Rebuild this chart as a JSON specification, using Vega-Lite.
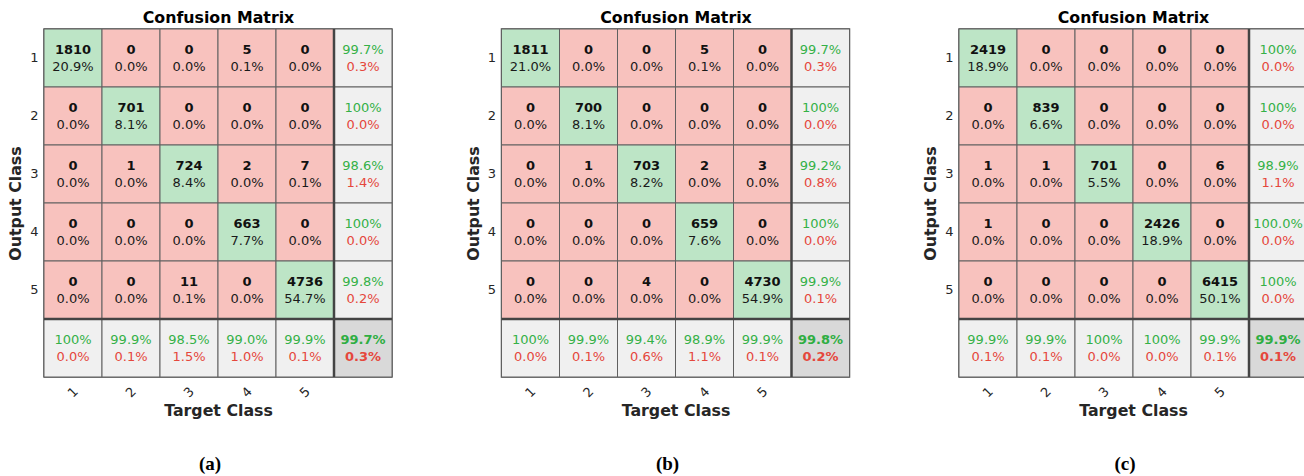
{
  "$schema": "https://vega.github.io/schema/vega-lite/v6.json",
  "background": "white",
  "padding": {"left": 6, "top": 8, "right": 0, "bottom": 0},
  "autosize": {"type": "pad"},
  "spacing": 109.5,
  "bounds": "flush",
  "data": {"values": [
    {"p":"a","r":"1","c":"1","t":"1810","s":"20.9%","k":"d"},
    {"p":"a","r":"1","c":"2","t":"0","s":"0.0%","k":"o"},
    {"p":"a","r":"1","c":"3","t":"0","s":"0.0%","k":"o"},
    {"p":"a","r":"1","c":"4","t":"5","s":"0.1%","k":"o"},
    {"p":"a","r":"1","c":"5","t":"0","s":"0.0%","k":"o"},
    {"p":"a","r":"1","c":"T","t":"99.7%","s":"0.3%","k":"s"},
    {"p":"a","r":"2","c":"1","t":"0","s":"0.0%","k":"o"},
    {"p":"a","r":"2","c":"2","t":"701","s":"8.1%","k":"d"},
    {"p":"a","r":"2","c":"3","t":"0","s":"0.0%","k":"o"},
    {"p":"a","r":"2","c":"4","t":"0","s":"0.0%","k":"o"},
    {"p":"a","r":"2","c":"5","t":"0","s":"0.0%","k":"o"},
    {"p":"a","r":"2","c":"T","t":"100%","s":"0.0%","k":"s"},
    {"p":"a","r":"3","c":"1","t":"0","s":"0.0%","k":"o"},
    {"p":"a","r":"3","c":"2","t":"1","s":"0.0%","k":"o"},
    {"p":"a","r":"3","c":"3","t":"724","s":"8.4%","k":"d"},
    {"p":"a","r":"3","c":"4","t":"2","s":"0.0%","k":"o"},
    {"p":"a","r":"3","c":"5","t":"7","s":"0.1%","k":"o"},
    {"p":"a","r":"3","c":"T","t":"98.6%","s":"1.4%","k":"s"},
    {"p":"a","r":"4","c":"1","t":"0","s":"0.0%","k":"o"},
    {"p":"a","r":"4","c":"2","t":"0","s":"0.0%","k":"o"},
    {"p":"a","r":"4","c":"3","t":"0","s":"0.0%","k":"o"},
    {"p":"a","r":"4","c":"4","t":"663","s":"7.7%","k":"d"},
    {"p":"a","r":"4","c":"5","t":"0","s":"0.0%","k":"o"},
    {"p":"a","r":"4","c":"T","t":"100%","s":"0.0%","k":"s"},
    {"p":"a","r":"5","c":"1","t":"0","s":"0.0%","k":"o"},
    {"p":"a","r":"5","c":"2","t":"0","s":"0.0%","k":"o"},
    {"p":"a","r":"5","c":"3","t":"11","s":"0.1%","k":"o"},
    {"p":"a","r":"5","c":"4","t":"0","s":"0.0%","k":"o"},
    {"p":"a","r":"5","c":"5","t":"4736","s":"54.7%","k":"d"},
    {"p":"a","r":"5","c":"T","t":"99.8%","s":"0.2%","k":"s"},
    {"p":"a","r":"T","c":"1","t":"100%","s":"0.0%","k":"s"},
    {"p":"a","r":"T","c":"2","t":"99.9%","s":"0.1%","k":"s"},
    {"p":"a","r":"T","c":"3","t":"98.5%","s":"1.5%","k":"s"},
    {"p":"a","r":"T","c":"4","t":"99.0%","s":"1.0%","k":"s"},
    {"p":"a","r":"T","c":"5","t":"99.9%","s":"0.1%","k":"s"},
    {"p":"a","r":"T","c":"T","t":"99.7%","s":"0.3%","k":"t"},

    {"p":"b","r":"1","c":"1","t":"1811","s":"21.0%","k":"d"},
    {"p":"b","r":"1","c":"2","t":"0","s":"0.0%","k":"o"},
    {"p":"b","r":"1","c":"3","t":"0","s":"0.0%","k":"o"},
    {"p":"b","r":"1","c":"4","t":"5","s":"0.1%","k":"o"},
    {"p":"b","r":"1","c":"5","t":"0","s":"0.0%","k":"o"},
    {"p":"b","r":"1","c":"T","t":"99.7%","s":"0.3%","k":"s"},
    {"p":"b","r":"2","c":"1","t":"0","s":"0.0%","k":"o"},
    {"p":"b","r":"2","c":"2","t":"700","s":"8.1%","k":"d"},
    {"p":"b","r":"2","c":"3","t":"0","s":"0.0%","k":"o"},
    {"p":"b","r":"2","c":"4","t":"0","s":"0.0%","k":"o"},
    {"p":"b","r":"2","c":"5","t":"0","s":"0.0%","k":"o"},
    {"p":"b","r":"2","c":"T","t":"100%","s":"0.0%","k":"s"},
    {"p":"b","r":"3","c":"1","t":"0","s":"0.0%","k":"o"},
    {"p":"b","r":"3","c":"2","t":"1","s":"0.0%","k":"o"},
    {"p":"b","r":"3","c":"3","t":"703","s":"8.2%","k":"d"},
    {"p":"b","r":"3","c":"4","t":"2","s":"0.0%","k":"o"},
    {"p":"b","r":"3","c":"5","t":"3","s":"0.0%","k":"o"},
    {"p":"b","r":"3","c":"T","t":"99.2%","s":"0.8%","k":"s"},
    {"p":"b","r":"4","c":"1","t":"0","s":"0.0%","k":"o"},
    {"p":"b","r":"4","c":"2","t":"0","s":"0.0%","k":"o"},
    {"p":"b","r":"4","c":"3","t":"0","s":"0.0%","k":"o"},
    {"p":"b","r":"4","c":"4","t":"659","s":"7.6%","k":"d"},
    {"p":"b","r":"4","c":"5","t":"0","s":"0.0%","k":"o"},
    {"p":"b","r":"4","c":"T","t":"100%","s":"0.0%","k":"s"},
    {"p":"b","r":"5","c":"1","t":"0","s":"0.0%","k":"o"},
    {"p":"b","r":"5","c":"2","t":"0","s":"0.0%","k":"o"},
    {"p":"b","r":"5","c":"3","t":"4","s":"0.0%","k":"o"},
    {"p":"b","r":"5","c":"4","t":"0","s":"0.0%","k":"o"},
    {"p":"b","r":"5","c":"5","t":"4730","s":"54.9%","k":"d"},
    {"p":"b","r":"5","c":"T","t":"99.9%","s":"0.1%","k":"s"},
    {"p":"b","r":"T","c":"1","t":"100%","s":"0.0%","k":"s"},
    {"p":"b","r":"T","c":"2","t":"99.9%","s":"0.1%","k":"s"},
    {"p":"b","r":"T","c":"3","t":"99.4%","s":"0.6%","k":"s"},
    {"p":"b","r":"T","c":"4","t":"98.9%","s":"1.1%","k":"s"},
    {"p":"b","r":"T","c":"5","t":"99.9%","s":"0.1%","k":"s"},
    {"p":"b","r":"T","c":"T","t":"99.8%","s":"0.2%","k":"t"},

    {"p":"c","r":"1","c":"1","t":"2419","s":"18.9%","k":"d"},
    {"p":"c","r":"1","c":"2","t":"0","s":"0.0%","k":"o"},
    {"p":"c","r":"1","c":"3","t":"0","s":"0.0%","k":"o"},
    {"p":"c","r":"1","c":"4","t":"0","s":"0.0%","k":"o"},
    {"p":"c","r":"1","c":"5","t":"0","s":"0.0%","k":"o"},
    {"p":"c","r":"1","c":"T","t":"100%","s":"0.0%","k":"s"},
    {"p":"c","r":"2","c":"1","t":"0","s":"0.0%","k":"o"},
    {"p":"c","r":"2","c":"2","t":"839","s":"6.6%","k":"d"},
    {"p":"c","r":"2","c":"3","t":"0","s":"0.0%","k":"o"},
    {"p":"c","r":"2","c":"4","t":"0","s":"0.0%","k":"o"},
    {"p":"c","r":"2","c":"5","t":"0","s":"0.0%","k":"o"},
    {"p":"c","r":"2","c":"T","t":"100%","s":"0.0%","k":"s"},
    {"p":"c","r":"3","c":"1","t":"1","s":"0.0%","k":"o"},
    {"p":"c","r":"3","c":"2","t":"1","s":"0.0%","k":"o"},
    {"p":"c","r":"3","c":"3","t":"701","s":"5.5%","k":"d"},
    {"p":"c","r":"3","c":"4","t":"0","s":"0.0%","k":"o"},
    {"p":"c","r":"3","c":"5","t":"6","s":"0.0%","k":"o"},
    {"p":"c","r":"3","c":"T","t":"98.9%","s":"1.1%","k":"s"},
    {"p":"c","r":"4","c":"1","t":"1","s":"0.0%","k":"o"},
    {"p":"c","r":"4","c":"2","t":"0","s":"0.0%","k":"o"},
    {"p":"c","r":"4","c":"3","t":"0","s":"0.0%","k":"o"},
    {"p":"c","r":"4","c":"4","t":"2426","s":"18.9%","k":"d"},
    {"p":"c","r":"4","c":"5","t":"0","s":"0.0%","k":"o"},
    {"p":"c","r":"4","c":"T","t":"100.0%","s":"0.0%","k":"s"},
    {"p":"c","r":"5","c":"1","t":"0","s":"0.0%","k":"o"},
    {"p":"c","r":"5","c":"2","t":"0","s":"0.0%","k":"o"},
    {"p":"c","r":"5","c":"3","t":"0","s":"0.0%","k":"o"},
    {"p":"c","r":"5","c":"4","t":"0","s":"0.0%","k":"o"},
    {"p":"c","r":"5","c":"5","t":"6415","s":"50.1%","k":"d"},
    {"p":"c","r":"5","c":"T","t":"100%","s":"0.0%","k":"s"},
    {"p":"c","r":"T","c":"1","t":"99.9%","s":"0.1%","k":"s"},
    {"p":"c","r":"T","c":"2","t":"99.9%","s":"0.1%","k":"s"},
    {"p":"c","r":"T","c":"3","t":"100%","s":"0.0%","k":"s"},
    {"p":"c","r":"T","c":"4","t":"100%","s":"0.0%","k":"s"},
    {"p":"c","r":"T","c":"5","t":"99.9%","s":"0.1%","k":"s"},
    {"p":"c","r":"T","c":"T","t":"99.9%","s":"0.1%","k":"t"}
  ]},
  "hconcat": [
    {
      "width": 348, "height": 348,
      "title": {"text": "(a)"},
      "transform": [{"filter": "datum.p == 'a'"}],
      "resolve": {"axis": {"x": "independent", "y": "independent"}},
      "layer": [
        {"mark": {"type": "rect", "stroke": "#606060", "strokeWidth": 1},
         "encoding": {
           "x": {"field": "c", "type": "nominal", "scale": {"paddingInner": 0, "paddingOuter": 0},
                 "axis": {"orient": "bottom", "title": "Target Class", "labelExpr": "datum.value == 'T' ? '' : datum.value"}},
           "y": {"field": "r", "type": "nominal", "scale": {"paddingInner": 0, "paddingOuter": 0},
                 "axis": {"orient": "left", "title": "Output Class", "labels": true, "labelExpr": "datum.value == 'T' ? '' : datum.value"}},
           "fill": {"field": "k", "type": "nominal", "legend": null,
                    "scale": {"domain": ["d","o","s","t"], "range": ["#bde5c6","#f8c2be","#f0f0f0","#d9d9d9"]}}}},
        {"transform": [{"filter": "datum.k == 't'"}],
         "mark": {"type": "rule", "color": "#444444", "strokeWidth": 2.5},
         "encoding": {"x": {"field": "c", "type": "nominal", "bandPosition": 0,
                            "axis": {"orient": "top", "title": "Confusion Matrix", "labels": false, "ticks": false, "domain": false, "titleFontSize": 15.8, "titleColor": "#000000", "titlePadding": 4}}}},
        {"transform": [{"filter": "datum.k == 't'"}],
         "mark": {"type": "rule", "color": "#444444", "strokeWidth": 2.5},
         "encoding": {"y": {"field": "r", "type": "nominal", "bandPosition": 0, "axis": null}}},
        {"transform": [{"filter": "datum.k != 's'"}],
         "mark": {"type": "text", "fontWeight": "bold", "dy": -8.5},
         "encoding": {"x": {"field": "c", "type": "nominal", "axis": null}, "y": {"field": "r", "type": "nominal", "axis": null},
           "text": {"field": "t"},
           "color": {"condition": {"test": "datum.k == 't'", "value": "#2fae42"}, "value": "#111111"}}},
        {"transform": [{"filter": "datum.k == 's'"}],
         "mark": {"type": "text", "dy": -8.5, "color": "#34b147"},
         "encoding": {"x": {"field": "c", "type": "nominal", "axis": null}, "y": {"field": "r", "type": "nominal", "axis": null},
           "text": {"field": "t"}}},
        {"transform": [{"filter": "datum.k == 't'"}],
         "mark": {"type": "text", "fontWeight": "bold", "dy": 9, "color": "#e5473c"},
         "encoding": {"x": {"field": "c", "type": "nominal", "axis": null}, "y": {"field": "r", "type": "nominal", "axis": null},
           "text": {"field": "s"}}},
        {"transform": [{"filter": "datum.k != 't'"}],
         "mark": {"type": "text", "dy": 9},
         "encoding": {"x": {"field": "c", "type": "nominal", "axis": null}, "y": {"field": "r", "type": "nominal", "axis": null},
           "text": {"field": "s"},
           "color": {"condition": {"test": "datum.k == 's'", "value": "#e5473c"}, "value": "#1a1a1a"}}}
      ]
    },
    {
      "width": 348, "height": 348,
      "title": {"text": "(b)"},
      "transform": [{"filter": "datum.p == 'b'"}],
      "resolve": {"axis": {"x": "independent", "y": "independent"}},
      "layer": [
        {"mark": {"type": "rect", "stroke": "#606060", "strokeWidth": 1},
         "encoding": {
           "x": {"field": "c", "type": "nominal", "scale": {"paddingInner": 0, "paddingOuter": 0},
                 "axis": {"orient": "bottom", "title": "Target Class", "labelExpr": "datum.value == 'T' ? '' : datum.value"}},
           "y": {"field": "r", "type": "nominal", "scale": {"paddingInner": 0, "paddingOuter": 0},
                 "axis": {"orient": "left", "title": "Output Class", "labels": true, "labelExpr": "datum.value == 'T' ? '' : datum.value"}},
           "fill": {"field": "k", "type": "nominal", "legend": null,
                    "scale": {"domain": ["d","o","s","t"], "range": ["#bde5c6","#f8c2be","#f0f0f0","#d9d9d9"]}}}},
        {"transform": [{"filter": "datum.k == 't'"}],
         "mark": {"type": "rule", "color": "#444444", "strokeWidth": 2.5},
         "encoding": {"x": {"field": "c", "type": "nominal", "bandPosition": 0,
                            "axis": {"orient": "top", "title": "Confusion Matrix", "labels": false, "ticks": false, "domain": false, "titleFontSize": 15.8, "titleColor": "#000000", "titlePadding": 4}}}},
        {"transform": [{"filter": "datum.k == 't'"}],
         "mark": {"type": "rule", "color": "#444444", "strokeWidth": 2.5},
         "encoding": {"y": {"field": "r", "type": "nominal", "bandPosition": 0, "axis": null}}},
        {"transform": [{"filter": "datum.k != 's'"}],
         "mark": {"type": "text", "fontWeight": "bold", "dy": -8.5},
         "encoding": {"x": {"field": "c", "type": "nominal", "axis": null}, "y": {"field": "r", "type": "nominal", "axis": null},
           "text": {"field": "t"},
           "color": {"condition": {"test": "datum.k == 't'", "value": "#2fae42"}, "value": "#111111"}}},
        {"transform": [{"filter": "datum.k == 's'"}],
         "mark": {"type": "text", "dy": -8.5, "color": "#34b147"},
         "encoding": {"x": {"field": "c", "type": "nominal", "axis": null}, "y": {"field": "r", "type": "nominal", "axis": null},
           "text": {"field": "t"}}},
        {"transform": [{"filter": "datum.k == 't'"}],
         "mark": {"type": "text", "fontWeight": "bold", "dy": 9, "color": "#e5473c"},
         "encoding": {"x": {"field": "c", "type": "nominal", "axis": null}, "y": {"field": "r", "type": "nominal", "axis": null},
           "text": {"field": "s"}}},
        {"transform": [{"filter": "datum.k != 't'"}],
         "mark": {"type": "text", "dy": 9},
         "encoding": {"x": {"field": "c", "type": "nominal", "axis": null}, "y": {"field": "r", "type": "nominal", "axis": null},
           "text": {"field": "s"},
           "color": {"condition": {"test": "datum.k == 's'", "value": "#e5473c"}, "value": "#1a1a1a"}}}
      ]
    },
    {
      "width": 348, "height": 348,
      "title": {"text": "(c)"},
      "transform": [{"filter": "datum.p == 'c'"}],
      "resolve": {"axis": {"x": "independent", "y": "independent"}},
      "layer": [
        {"mark": {"type": "rect", "stroke": "#606060", "strokeWidth": 1},
         "encoding": {
           "x": {"field": "c", "type": "nominal", "scale": {"paddingInner": 0, "paddingOuter": 0},
                 "axis": {"orient": "bottom", "title": "Target Class", "labelExpr": "datum.value == 'T' ? '' : datum.value"}},
           "y": {"field": "r", "type": "nominal", "scale": {"paddingInner": 0, "paddingOuter": 0},
                 "axis": {"orient": "left", "title": "Output Class", "labels": true, "labelExpr": "datum.value == 'T' ? '' : datum.value"}},
           "fill": {"field": "k", "type": "nominal", "legend": null,
                    "scale": {"domain": ["d","o","s","t"], "range": ["#bde5c6","#f8c2be","#f0f0f0","#d9d9d9"]}}}},
        {"transform": [{"filter": "datum.k == 't'"}],
         "mark": {"type": "rule", "color": "#444444", "strokeWidth": 2.5},
         "encoding": {"x": {"field": "c", "type": "nominal", "bandPosition": 0,
                            "axis": {"orient": "top", "title": "Confusion Matrix", "labels": false, "ticks": false, "domain": false, "titleFontSize": 15.8, "titleColor": "#000000", "titlePadding": 4}}}},
        {"transform": [{"filter": "datum.k == 't'"}],
         "mark": {"type": "rule", "color": "#444444", "strokeWidth": 2.5},
         "encoding": {"y": {"field": "r", "type": "nominal", "bandPosition": 0, "axis": null}}},
        {"transform": [{"filter": "datum.k != 's'"}],
         "mark": {"type": "text", "fontWeight": "bold", "dy": -8.5},
         "encoding": {"x": {"field": "c", "type": "nominal", "axis": null}, "y": {"field": "r", "type": "nominal", "axis": null},
           "text": {"field": "t"},
           "color": {"condition": {"test": "datum.k == 't'", "value": "#2fae42"}, "value": "#111111"}}},
        {"transform": [{"filter": "datum.k == 's'"}],
         "mark": {"type": "text", "dy": -8.5, "color": "#34b147"},
         "encoding": {"x": {"field": "c", "type": "nominal", "axis": null}, "y": {"field": "r", "type": "nominal", "axis": null},
           "text": {"field": "t"}}},
        {"transform": [{"filter": "datum.k == 't'"}],
         "mark": {"type": "text", "fontWeight": "bold", "dy": 9, "color": "#e5473c"},
         "encoding": {"x": {"field": "c", "type": "nominal", "axis": null}, "y": {"field": "r", "type": "nominal", "axis": null},
           "text": {"field": "s"}}},
        {"transform": [{"filter": "datum.k != 't'"}],
         "mark": {"type": "text", "dy": 9},
         "encoding": {"x": {"field": "c", "type": "nominal", "axis": null}, "y": {"field": "r", "type": "nominal", "axis": null},
           "text": {"field": "s"},
           "color": {"condition": {"test": "datum.k == 's'", "value": "#e5473c"}, "value": "#1a1a1a"}}}
      ]
    }
  ],
  "config": {
    "font": "DejaVu Sans",
    "view": {"stroke": "#505050", "strokeWidth": 1.5},
    "text": {"font": "DejaVu Sans", "fontSize": 13, "baseline": "middle", "align": "center"},
    "axis": {"labelFont": "DejaVu Sans", "labelFontSize": 13, "labelColor": "#262626", "titleFont": "DejaVu Sans", "titleFontSize": 15.8, "titleFontWeight": "bold", "titleColor": "#262626", "ticks": false, "tickSize": 0, "domain": false, "grid": false},
    "axisX": {"labelAngle": -45, "labelAlign": "center", "labelBaseline": "middle", "labelPadding": 15, "titlePadding": 4},
    "axisY": {"labelAngle": 0, "labelPadding": 6, "titlePadding": 6},
    "title": {"orient": "bottom", "font": "Liberation Serif", "fontSize": 19, "fontWeight": "bold", "color": "#000000", "offset": 36, "dx": -8, "anchor": "middle"}
  }
}
